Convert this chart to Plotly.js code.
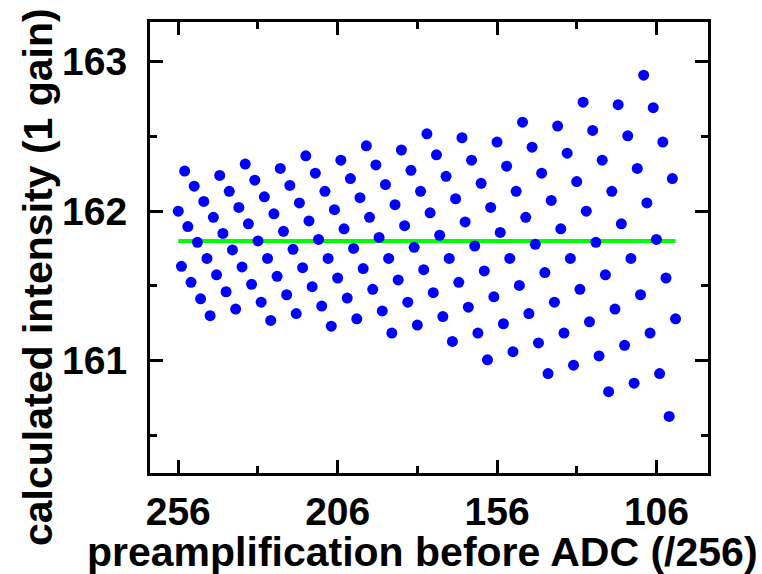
<!DOCTYPE html>
<html>
<head>
<meta charset="utf-8">
<script src="https://cdn.plot.ly/plotly-3.0.1.min.js"></script>
<style>html,body{margin:0;padding:0;background:#fff;}#chart{width:762px;height:574px;}</style>
</head>
<body>
<div id="chart"></div>
<script>
// preamplification setting (/256)
const preampGain = [256,255,254,253,252,251,250,249,248,247,246,245,244,243,242,241,240,239,238,237,236,235,234,233,232,231,230,229,228,227,226,225,224,223,222,221,220,219,218,217,216,215,214,213,212,211,210,209,208,207,206,205,204,203,202,201,200,199,198,197,196,195,194,193,192,191,190,189,188,187,186,185,184,183,182,181,180,179,178,177,176,175,174,173,172,171,170,169,168,167,166,165,164,163,162,161,160,159,158,157,156,155,154,153,152,151,150,149,148,147,146,145,144,143,142,141,140,139,138,137,136,135,134,133,132,131,130,129,128,127,126,125,124,123,122,121,120,119,118,117,116,115,114,113,112,111,110,109,108,107,106,105,104,103,102,101,100];
// calculated intensity (1 gain)
const calcIntensity = [162.000,161.631,162.268,161.897,161.524,162.167,161.792,161.414,162.065,161.684,161.301,161.959,161.574,162.239,161.851,161.461,162.133,161.741,161.345,162.025,161.627,162.315,161.915,161.511,162.207,161.801,161.391,162.096,161.684,161.269,161.982,161.564,162.286,161.865,161.441,162.172,161.745,161.315,162.055,161.622,162.370,161.935,161.495,162.254,161.811,161.365,162.133,161.684,161.231,162.010,161.553,162.341,161.882,161.419,162.218,161.751,161.280,162.090,161.616,162.437,161.959,161.477,162.309,161.824,161.333,162.178,161.684,161.185,162.043,161.540,162.409,161.903,161.391,162.273,161.758,161.238,162.133,161.609,162.517,161.989,161.455,162.377,161.839,161.295,162.233,161.684,161.129,162.083,161.524,162.491,161.928,161.358,162.341,161.767,161.185,162.186,161.600,161.006,162.025,161.427,162.462,161.858,161.247,162.301,161.684,161.060,162.133,161.503,162.595,161.959,161.315,162.428,161.778,161.119,162.254,161.589,160.914,162.072,161.391,162.569,161.882,161.185,162.388,161.684,160.970,162.198,161.477,162.729,162.000,161.260,162.540,161.792,161.032,162.341,161.574,160.793,162.133,161.345,162.712,161.915,161.103,162.504,161.684,160.850,162.286,161.441,162.909,162.055,161.185,162.692,161.811,160.914,162.462,161.553,160.627,162.218,161.280];
// true intensity reference line
const refLineX = [256, 100];
const refLineY = [161.8, 161.8];
// tick labels
const xTickVals = [256, 206, 156, 106];
const xTickText = ['256', '206', '156', '106'];
const yTickVals = [161, 162, 163];
const yTickText = ['161', '162', '163'];
const xTitle = 'preamplification before ADC (/256)';
const yTitle = 'calculated intensity (1 gain)';

const fontFam = 'Liberation Sans, Arial, sans-serif';

const traces = [
  {x: refLineX, y: refLineY, type: 'scatter', mode: 'lines',
   line: {color: '#00FF00', width: 4}, hoverinfo: 'skip', showlegend: false},
  {x: preampGain, y: calcIntensity, type: 'scatter', mode: 'markers',
   marker: {color: '#0000FF', size: 11, line: {width: 0}}, showlegend: false}
];

const axisCommon = {
  showgrid: false, zeroline: false, showline: true, linecolor: '#000', linewidth: 3,
  mirror: 'ticks', ticks: 'inside', ticklen: 13, tickwidth: 3, tickcolor: '#000',
  tickfont: {family: fontFam, size: 39, color: '#000', weight: 'bold'}
};

const layout = {
  width: 762, height: 574,
  margin: {l: 150, r: 54, t: 22, b: 101, pad: 0},
  paper_bgcolor: '#fff', plot_bgcolor: '#fff',
  showlegend: false,
  xaxis: Object.assign({}, axisCommon, {
    range: [264.87, 89.82], tickmode: 'array', tickvals: xTickVals, ticktext: xTickText,
    ticklabelstandoff: 2,
    minor: {ticks: 'inside', ticklen: 7, tickwidth: 3, tickcolor: '#000', dtick: 25, tick0: 6, showgrid: false}
  }),
  yaxis: Object.assign({}, axisCommon, {
    range: [160.249, 163.265], tickmode: 'array', tickvals: yTickVals, ticktext: yTickText,
    ticklabelstandoff: 12,
    minor: {ticks: 'inside', ticklen: 7, tickwidth: 3, tickcolor: '#000', dtick: 0.5, tick0: 160, showgrid: false}
  }),
  annotations: [
    {text: xTitle, xref: 'paper', yref: 'paper', x: 0.4875, y: -0.176, xanchor: 'center', yanchor: 'middle',
     showarrow: false, font: {family: fontFam, size: 41, color: '#000', weight: 'bold'}},
    {text: yTitle, xref: 'paper', yref: 'paper', x: -0.2007, y: 0.4346, xanchor: 'center', yanchor: 'middle',
     textangle: -90, showarrow: false, font: {family: fontFam, size: 41, color: '#000', weight: 'bold'}}
  ]
};

Plotly.newPlot('chart', traces, layout, {displayModeBar: false, staticPlot: true});
</script>
</body>
</html>
